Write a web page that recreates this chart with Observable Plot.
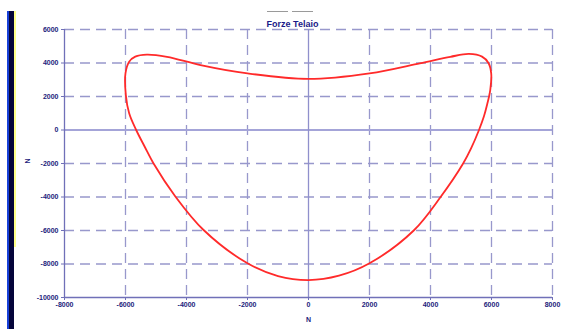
<!DOCTYPE html>
<html>
<head>
<meta charset="utf-8">
<script src="https://cdn.jsdelivr.net/npm/d3@7"></script>
<script src="https://cdn.jsdelivr.net/npm/@observablehq/plot@0.6"></script>
<style>
  html, body { margin: 0; padding: 0; background: #fff; }
  #wrap { position: relative; width: 566px; height: 329px; overflow: hidden; background: #fff; }
  #wrap svg { position: absolute; left: 0; top: 0; }
  .bar { position: absolute; }
</style>
</head>
<body>
<div id="wrap">
  <div class="bar" style="left:7px;top:11px;width:2px;height:318px;background:#1840d8;"></div>
  <div class="bar" style="left:9px;top:11px;width:5px;height:318px;background:#05053a;"></div>
  <div class="bar" style="left:14px;top:11px;width:2px;height:236px;background:#ffff88;"></div>
  <div class="bar" style="left:267px;top:11px;width:21px;height:1px;background:#9a9a9a;"></div>
  <div class="bar" style="left:292px;top:11px;width:21px;height:1px;background:#9a9a9a;"></div>
</div>
<script>
// Frame force envelope: horizontal force (x) against vertical force (y), both in N
const forceX = [0, 2000, 3650, 4650, 5260, 5690, 5900, 5990, 5960, 5840, 5750, 5590, 5330, 5070, 4330, 3450,
                2000, 1000, 0, -1000, -2000, -3440, -4360, -5080, -5370, -5650, -5880, -5990,
                -6000, -5880, -5680, -5300, -4640, -3540, -2000];
const forceY = [3050, 3380, 3980, 4370, 4540, 4380, 4000, 3385, 2400, 1400, 800, 0, -1100, -2000, -4000, -6000,
                -7960, -8700, -8960, -8720, -7960, -5970, -3980, -2000, -1000, 0, 1000, 2100,
                3390, 4080, 4380, 4500, 4370, 3880, 3380];

const xTicks = [-8000, -6000, -4000, -2000, 0, 2000, 4000, 6000, 8000];
const yTicks = [-10000, -8000, -6000, -4000, -2000, 0, 2000, 4000, 6000];
const title = "Forze Telaio";
const axisName = "N";

const envelope = forceX.map((x, i) => ({x, y: forceY[i]}));
const gridX = xTicks.filter(v => v !== 0 && v !== xTicks[0]);
const gridY = yTicks.filter(v => v !== 0 && v !== yTicks[0]);

const gridColor = "#9898cc";
const fmt = d => String(d);

const chart = Plot.plot({
  width: 566,
  height: 329,
  marginLeft: 64,
  marginRight: 14,
  marginTop: 29,
  marginBottom: 32,
  style: "background: transparent; font-family: 'Liberation Sans', Arial, sans-serif; font-size: 7px; font-weight: bold; color: #1c1c7c;",
  x: {domain: [xTicks[0], xTicks[xTicks.length - 1]]},
  y: {domain: [yTicks[0], yTicks[yTicks.length - 1]]},
  marks: [
    // dashed grid
    Plot.ruleY(gridY, {stroke: gridColor, strokeWidth: 1.3, strokeDasharray: "10,6"}),
    Plot.ruleX(gridX, {stroke: gridColor, strokeWidth: 1.3, strokeDasharray: "10,6"}),
    // zero lines
    Plot.ruleY([0], {stroke: "#a4a4d8", strokeWidth: 1.8}),
    Plot.ruleX([0], {stroke: "#9090cc", strokeWidth: 1.3}),
    // axis lines
    Plot.ruleX([xTicks[0]], {stroke: "#7070b8", strokeWidth: 1.3}),
    Plot.ruleY([yTicks[0]], {stroke: "#7070b8", strokeWidth: 1.3}),
    // envelope curve
    Plot.line(envelope, {x: "x", y: "y", curve: "catmull-rom-closed", stroke: "#ff2a2a", strokeWidth: 1.8}),
    Plot.axisX({ticks: xTicks, tickFormat: fmt, tickSize: 3, tickPadding: 2, label: null, stroke: "#7070b8"}),
    Plot.axisY({ticks: yTicks, tickFormat: fmt, tickSize: 3, tickPadding: 3, label: null, stroke: "#7070b8"}),
    // axis names and title
    Plot.text([axisName], {frameAnchor: "bottom", dy: 24, fill: "#1c1c7c"}),
    Plot.text([axisName], {frameAnchor: "left", dx: -37, rotate: -90, fill: "#1c1c7c"}),
    Plot.text([title], {frameAnchor: "top", dx: -16, dy: -9, fontSize: 9, fill: "#1a1a88"})
  ]
});

document.getElementById("wrap").prepend(chart);
</script>
</body>
</html>
